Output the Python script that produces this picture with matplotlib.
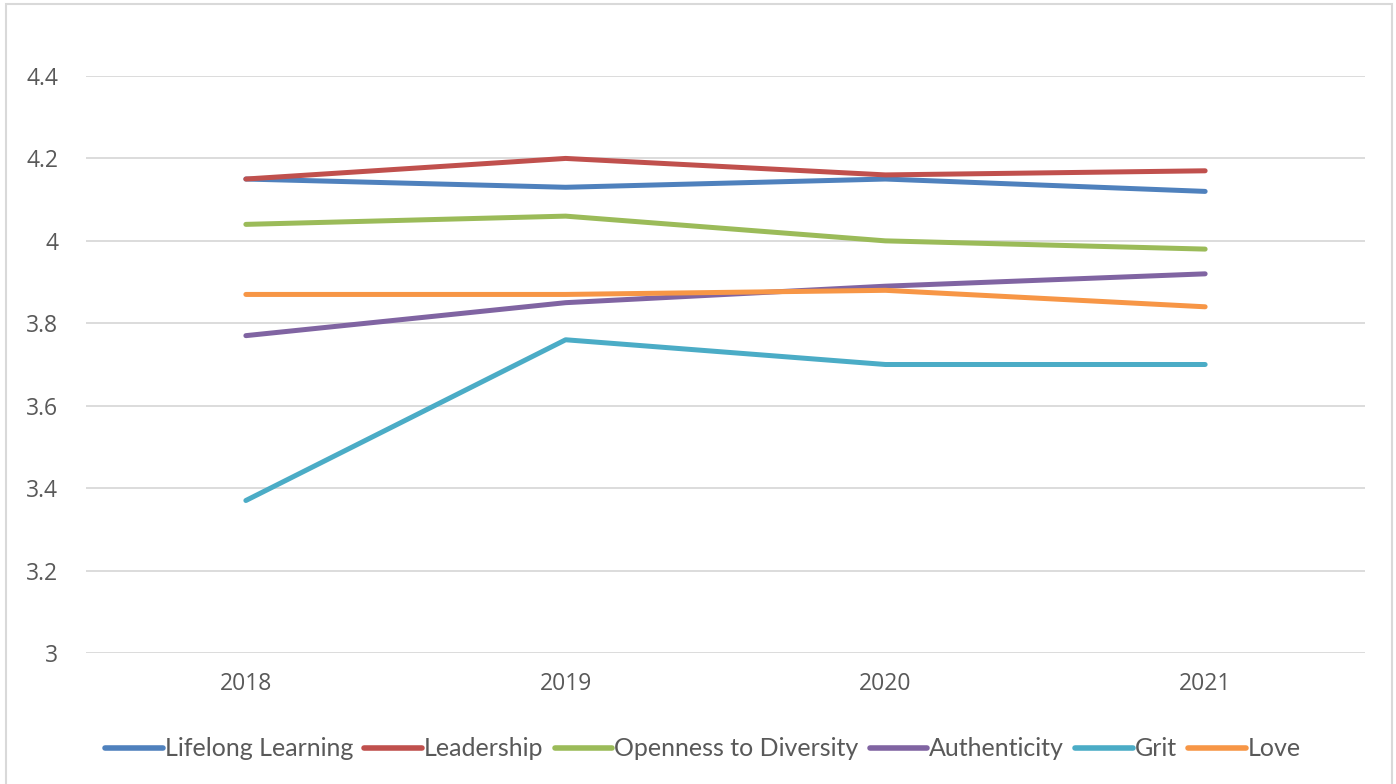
import matplotlib.pyplot as plt
from matplotlib.patches import Rectangle

years = ['2018', '2019', '2020', '2021']
lifelong = [4.15, 4.13, 4.15, 4.12]
leadership = [4.15, 4.20, 4.16, 4.17]
openness = [4.04, 4.06, 4.00, 3.98]
authenticity = [3.77, 3.85, 3.89, 3.92]
grit = [3.37, 3.76, 3.70, 3.70]
love = [3.87, 3.87, 3.88, 3.84]

series = [
    ('Lifelong Learning', lifelong, '#4F81BD'),
    ('Leadership', leadership, '#C0504D'),
    ('Openness to Diversity', openness, '#9BBB59'),
    ('Authenticity', authenticity, '#8064A2'),
    ('Grit', grit, '#4BACC6'),
    ('Love', love, '#F79646'),
]

fig = plt.figure(figsize=(13.96, 7.84), dpi=100)
W, H = 1396, 784
ax = fig.add_axes([86 / W, 1 - 653 / H, (1365 - 86) / W, (653 - 76) / H])

# chart frame
fig.patches.append(Rectangle((6 / W, -0.05), (1392 - 6) / W, 1 - 4 / H + 0.05,
                             transform=fig.transFigure, fill=False,
                             edgecolor='#D9D9D9', linewidth=1.5))

x = range(len(years))
for name, vals, col in series:
    ax.plot(x, vals, color=col, linewidth=3.6, label=name,
            solid_capstyle='round')

ax.set_xlim(-0.5, 3.5)
ax.set_ylim(3, 4.4)
ax.set_yticks([3, 3.2, 3.4, 3.6, 3.8, 4, 4.2, 4.4])
ax.set_yticklabels(['3', '3.2', '3.4', '3.6', '3.8', '4', '4.2', '4.4'])
ax.set_xticks(list(x))
ax.set_xticklabels(years)
ax.grid(axis='y', color='#D9D9D9', linewidth=1.3)
ax.set_axisbelow(True)
for s in ax.spines.values():
    s.set_visible(False)
ax.tick_params(length=0, labelsize=16.5, labelcolor='#595959')
ax.tick_params(axis='y', pad=20)
ax.tick_params(axis='x', pad=14)
for lbl in ax.get_xticklabels() + ax.get_yticklabels():
    lbl.set_family('Open Sans')

leg = fig.legend(loc='center', bbox_to_anchor=(703 / W, 1 - 749 / H), ncol=6,
                 frameon=False, handlelength=2.3, handletextpad=0.08,
                 columnspacing=0.45,
                 prop={'family': 'Lato', 'size': 18})
for t in leg.get_texts():
    t.set_color('#595959')
for h in leg.get_lines():
    h.set_linewidth(4)
    h.set_solid_capstyle('round')

fig.savefig('out.png', dpi=100)
